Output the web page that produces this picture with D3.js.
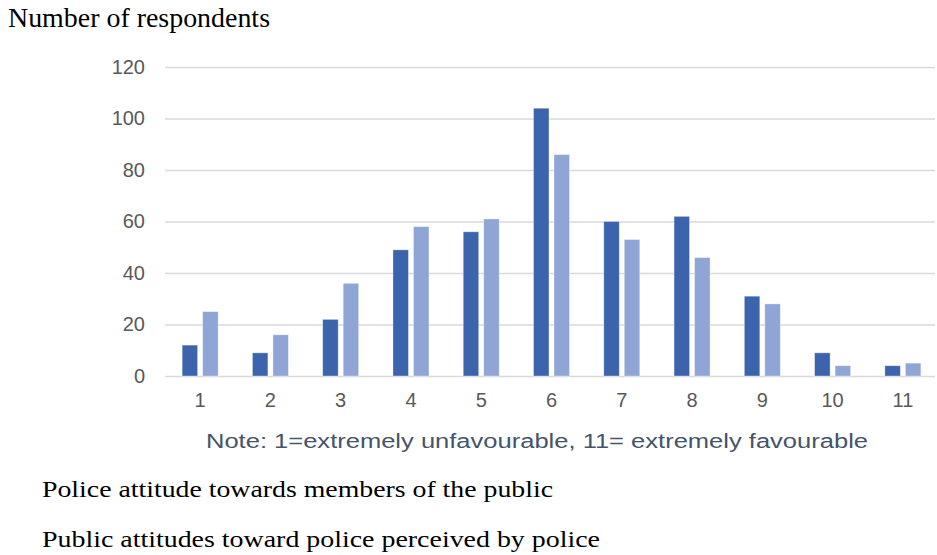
<!DOCTYPE html>
<html>
<head>
<meta charset="utf-8">
<script src="https://cdn.jsdelivr.net/npm/d3@7"></script>
<style>
  html, body { margin: 0; padding: 0; background: #fff; }
  svg { display: block; }
</style>
</head>
<body>
<svg id="chart" width="937" height="555"></svg>
<script>
// Rating scale categories (1 = extremely unfavourable, 11 = extremely favourable)
const categories = ["1", "2", "3", "4", "5", "6", "7", "8", "9", "10", "11"];
const seriesNames = [
  "Police attitude towards members of the public",
  "Public attitudes toward police perceived by police"
];
const policeAttitude = [12, 9, 22, 49, 56, 104, 60, 62, 31, 9, 4];
const perceivedPublicAttitude = [25, 16, 36, 58, 61, 86, 53, 46, 28, 4, 5];
const yTicks = [0, 20, 40, 60, 80, 100, 120];
const colors = ["#3c64ad", "#8fa5d5"];

const svg = d3.select("#chart");
const plot = { left: 165, right: 938, top: 67, bottom: 376 };

const x = d3.scaleBand().domain(categories).range([plot.left, plot.right]).padding(0);
const y = d3.scaleLinear().domain([0, 120]).range([plot.bottom, plot.top]);

const sans = "Liberation Sans, Arial, sans-serif";
const serif = "Liberation Serif, Times New Roman, serif";

// Horizontal gridlines and y tick labels
const yAxis = d3.axisLeft(y).tickValues(yTicks).tickSize(-(935 - plot.left)).tickPadding(20);
const gy = svg.append("g").attr("transform", `translate(${plot.left},0)`).call(yAxis);
gy.select(".domain").remove();
gy.selectAll(".tick line").attr("stroke", "#d9d9d9").attr("stroke-width", 1.3);
gy.selectAll(".tick text")
  .attr("font-family", sans)
  .attr("font-size", 20)
  .attr("fill", "#595959");

// Grouped bars
const barW = 15.5, gap = 5;
const data = categories.map((c, i) => ({ c, vals: [policeAttitude[i], perceivedPublicAttitude[i]] }));
const groups = svg.append("g").selectAll("g").data(data).join("g")
  .attr("transform", d => `translate(${x(d.c) + x.bandwidth() / 2},0)`);
groups.selectAll("rect").data(d => d.vals.map((v, k) => ({ v, k }))).join("rect")
  .attr("x", d => d.k === 0 ? -(barW + gap / 2) : gap / 2)
  .attr("width", barW)
  .attr("y", d => y(d.v))
  .attr("height", d => y(0) - y(d.v))
  .attr("fill", d => colors[d.k])
  .attr("stroke", "#ffffff")
  .attr("stroke-opacity", 0.45)
  .attr("stroke-width", 0.8);

// x axis labels
const xAxis = d3.axisBottom(x).tickSize(0).tickPadding(17);
const gx = svg.append("g").attr("transform", `translate(0,${plot.bottom})`).call(xAxis);
gx.select(".domain").remove();
gx.selectAll(".tick text")
  .attr("font-family", sans)
  .attr("font-size", 20)
  .attr("fill", "#595959");

// Axis title
svg.append("text")
  .attr("x", 8).attr("y", 27)
  .attr("font-family", serif)
  .attr("font-size", 27)
  .attr("textLength", 262)
  .attr("lengthAdjust", "spacingAndGlyphs")
  .attr("fill", "#000")
  .text("Number of respondents");

// Scale note
svg.append("text")
  .attr("x", 206).attr("y", 448)
  .attr("font-family", sans)
  .attr("font-size", 19.5)
  .attr("textLength", 662)
  .attr("lengthAdjust", "spacingAndGlyphs")
  .attr("fill", "#44546a")
  .text("Note: 1=extremely unfavourable, 11= extremely favourable");

// Series names
const nameWidths = [511, 558];
svg.append("g").selectAll("text").data(seriesNames).join("text")
  .attr("x", 42)
  .attr("y", (d, i) => 497 + i * 50)
  .attr("font-family", serif)
  .attr("font-size", 24)
  .attr("textLength", (d, i) => nameWidths[i])
  .attr("lengthAdjust", "spacingAndGlyphs")
  .attr("fill", "#000")
  .text(d => d);
</script>
</body>
</html>
